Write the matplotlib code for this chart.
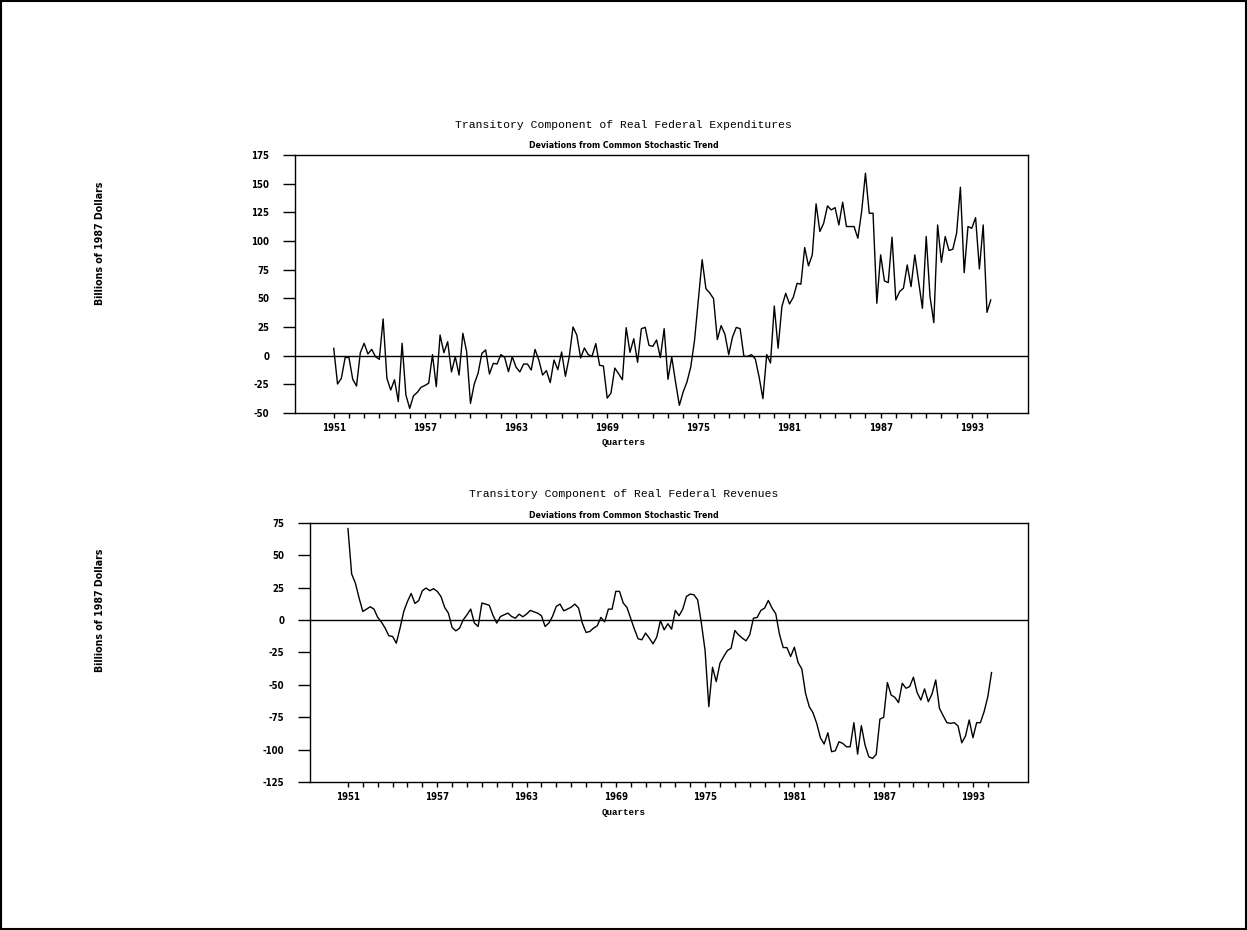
import matplotlib
matplotlib.use("Agg")
import matplotlib.pyplot as plt
import numpy as np
from matplotlib.patches import Rectangle

plt.rcParams['axes.unicode_minus'] = False

# quarterly observations, 1951Q1 onwards
start_year = 1951
expenditures = [
    6.4, -24.7, -19.8, -1.7, -1.5, -20.6, -26.5, 2.6, 10.8, 1.5,
    5.5, -0.9, -3.2, 32.0, -19.8, -30.0, -21.0, -40.0, 10.8, -34.3,
    -46.0, -35.0, -32.0, -27.6, -26.0, -24.0, 0.9, -27.0, 18.0, 2.6,
    12.2, -14.2, -0.9, -16.9, 19.5, 3.5, -41.6, -24.7, -15.4, 2.0,
    5.0, -16.0, -6.7, -7.3, 0.9, -1.5, -14.0, -0.9, -10.0, -14.2,
    -7.3, -7.3, -12.5, 5.5, -3.8, -16.9, -13.0, -23.5, -3.8, -12.2,
    3.2, -18.0, -1.2, 25.0, 18.0, -2.0, 6.7, 0.9, -0.6, 10.5,
    -8.4, -9.0, -37.0, -32.6, -10.8, -15.7, -21.0, 24.4, 2.9, 14.8,
    -5.8, 23.5, 24.7, 9.0, 8.1, 13.7, -1.7, 23.5, -20.6, -1.2,
    -23.0, -43.3, -31.7, -23.0, -9.9, 13.4, 48.3, 83.7, 58.4, 54.7,
    49.7, 14.0, 26.2, 18.6, 0.9, 16.3, 24.7, 23.5, -0.6, -0.6,
    0.9, -2.9, -18.6, -37.5, 0.9, -6.4, 43.3, 6.5, 42.8, 54.4,
    45.1, 50.9, 63.1, 62.3, 94.3, 78.3, 87.9, 132.4, 108.3, 115.5,
    130.6, 127.1, 129.1, 114.0, 133.8, 112.6, 112.6, 112.6, 102.4, 125.7,
    159.1, 124.2, 124.2, 45.7, 87.9, 65.2, 63.7, 103.3, 48.6, 55.9,
    58.8, 79.1, 60.2, 87.9, 64.6, 41.3, 103.9, 51.5, 28.8, 114.0,
    81.4, 103.9, 91.7, 92.8, 106.8, 146.9, 72.4, 112.6, 111.1, 120.4,
    75.6, 114.0, 37.8, 48.6,
]
revenues = [
    70.7, 35.6, 28.6, 17.0, 6.7, 8.5, 10.3, 8.5, 2.1, -1.5,
    -6.2, -12.1, -12.6, -17.8, -6.2, 6.7, 14.4, 20.6, 12.9, 15.0,
    22.7, 24.8, 22.7, 24.3, 22.2, 18.3, 9.8, 5.4, -5.7, -8.3,
    -6.2, 0.3, 4.1, 8.5, -2.3, -4.9, 13.2, 12.4, 11.4, 3.6,
    -2.3, 2.8, 4.1, 5.4, 2.8, 1.5, 4.6, 2.6, 4.6, 7.5,
    6.4, 5.4, 3.4, -4.9, -2.3, 3.0, 10.6, 12.4, 7.2, 8.5,
    10.0, 12.4, 9.3, -2.3, -9.5, -8.8, -6.2, -4.4, 2.1, -1.3,
    8.5, 8.5, 22.2, 22.2, 13.2, 9.8, 1.5, -7.0, -14.4, -15.2,
    -10.0, -13.9, -18.3, -13.2, -0.3, -7.5, -2.8, -7.0, 7.5, 3.4,
    8.5, 18.3, 20.1, 19.6, 15.7, -2.3, -23.5, -66.8, -36.4, -47.5,
    -33.3, -28.1, -23.5, -21.7, -8.0, -11.4, -13.9, -16.0, -11.4, 1.5,
    2.1, 7.5, 9.3, 15.2, 9.3, 4.9, -11.0, -21.2, -21.2, -28.1,
    -20.9, -32.8, -37.7, -56.5, -66.8, -71.5, -79.7, -90.8, -95.7, -87.0,
    -101.6, -100.9, -93.9, -95.2, -97.8, -97.8, -79.2, -103.5, -81.5, -96.5,
    -105.5, -106.8, -103.7, -76.4, -75.1, -48.2, -57.8, -59.6, -63.7, -48.8,
    -52.6, -51.3, -44.1, -56.0, -61.7, -53.1, -63.0, -57.0, -46.2, -68.1,
    -73.8, -79.2, -79.7, -79.2, -81.8, -94.7, -89.5, -77.1, -90.8, -79.2,
    -79.2, -70.7, -59.1, -40.5,
]
year_ticks = list(range(1951, 1995))
year_labels = [str(y) if (y - 1951) % 6 == 0 else "" for y in year_ticks]
exp_yticks = list(range(-50, 176, 25))
rev_yticks = list(range(-125, 76, 25))

W, H = 1247, 930
small_font = ['DejaVu Sans']
title_font = ['Liberation Mono', 'DejaVu Sans Mono']

fig = plt.figure(figsize=(W / 100, H / 100), dpi=100)
fig.patches.append(Rectangle((0.0008, 0.0011), 0.9984, 0.9978, fill=False,
                             lw=1.5, edgecolor='black', transform=fig.transFigure))


def fy(py):
    return 1 - py / H


def small(t, size=6.9):
    t.set_fontfamily(small_font)
    t.set_fontstretch('condensed')
    t.set_fontsize(size)
    t.set_fontweight('bold')


def panel(rect, values, yticks, title, label_rows):
    ax = fig.add_axes(rect)
    x = start_year + np.arange(len(values)) / 4.0
    ax.plot(x, values, color='black', lw=1.0)
    ax.axhline(0, color='black', lw=1.0)
    ax.set_xlim(1948.45, 1996.7)
    ax.set_ylim(yticks[0], yticks[-1])
    ax.set_xticks(year_ticks)
    ax.set_xticklabels(year_labels)
    ax.set_yticks(yticks)
    ax.set_yticklabels([str(t) for t in yticks])
    ax.tick_params(axis='y', direction='out', length=8.6, width=1, pad=10)
    ax.tick_params(axis='x', direction='out', length=3.6, width=1, pad=3.5)
    for lab in ax.get_xticklabels() + ax.get_yticklabels():
        small(lab)
    for s in ax.spines.values():
        s.set_linewidth(1)
    t_y, s_y, q_y, l_y = label_rows
    fig.text(0.5, fy(t_y), title, ha='center', va='center',
             family=title_font, fontsize=8.2)
    small(fig.text(0.5, fy(s_y), "Deviations from Common Stochastic Trend",
                   ha='center', va='center'), 6.3)
    fig.text(0.5, fy(q_y), "Quarters", ha='center', va='center',
             family=title_font, fontsize=6.6, fontweight='bold')
    small(fig.text(100 / W, fy(l_y), "Billions of 1987 Dollars", ha='center',
                   va='center', rotation=90), 7.6)
    return ax


panel([295 / W, fy(413), 733 / W, 258 / H], expenditures, exp_yticks,
      "Transitory Component of Real Federal Expenditures", (125, 146, 442, 243))
panel([310 / W, fy(782), 718 / W, 259 / H], revenues, rev_yticks,
      "Transitory Component of Real Federal Revenues", (494, 516, 812, 610))

fig.savefig("out.png", dpi=100)
